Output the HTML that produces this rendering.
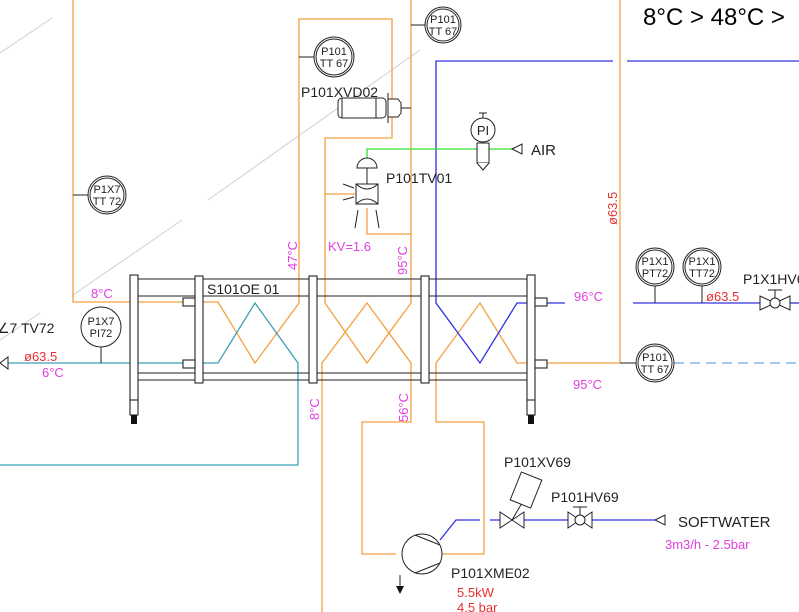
<!DOCTYPE html>
<html><head><meta charset="utf-8"><style>
html,body{margin:0;padding:0;background:#fff}
svg{display:block}
text{font-family:"Liberation Sans",sans-serif}
</style></head><body>
<svg width="799" height="612" viewBox="0 0 799 612" xmlns="http://www.w3.org/2000/svg">
<rect width="799" height="612" fill="#fff"/>
<!-- faint diagonal lines -->
<g stroke="#d0d0d0" stroke-width="1">
<line x1="0" y1="53" x2="52" y2="18"/>
<line x1="73" y1="295" x2="182" y2="220"/>
<line x1="208" y1="200" x2="420" y2="50"/>
<line x1="0" y1="340" x2="40" y2="313"/>
</g>
<g fill="none" stroke="#f5a040" stroke-width="1.3">
<!-- left orange loop -->
<polyline points="73,0 73,302 185,302"/>
<polyline points="185,302 218,302 255,363 299,303 299,19 392,19 392,138 325,138 325,303"/>
<line x1="325" y1="194" x2="355" y2="194"/>
<polyline points="367,208 367,234 411,234"/>
<line x1="411" y1="0" x2="411" y2="303"/>
<!-- section 2 -->
<polyline points="325,303 367,363 411,303"/>
<polyline points="322,612 322,363 367,303 411,363 411,422 362,422 362,554 396,554"/>
<polyline points="436,363 436,422 484,422 484,554 440,554"/>
<!-- section 3 orange -->
<polyline points="436,363 480,303 517,363 620,363"/>
<line x1="620" y1="0" x2="620" y2="363"/>
</g>
<!-- teal -->
<polyline points="0,363 218,363 255,303 298,363 298,465 0,465" fill="none" stroke="#3aa0b8" stroke-width="1.3"/>
<!-- blue -->
<g fill="none" stroke="#3030e0" stroke-width="1.3">
<polyline points="613,61 436,61 436,303 480,363 517,303 565,303"/>
<line x1="627" y1="61" x2="799" y2="61"/>
<line x1="633" y1="303" x2="760" y2="303"/>
<line x1="790" y1="303" x2="799" y2="303"/>
<polyline points="440,540 456,520 480,520"/>
<line x1="490" y1="520" x2="655" y2="520"/>
</g>
<line x1="674" y1="363" x2="799" y2="363" stroke="#70a8e0" stroke-width="1.3" stroke-dasharray="10,6"/>
<!-- green air -->
<polyline points="367,158 367,149 512,149" fill="none" stroke="#30e030" stroke-width="1.3"/>
<!-- HX frame -->
<g fill="#fff" stroke="#222" stroke-width="1.1">
<line x1="135" y1="279" x2="535" y2="279" fill="none"/>
<line x1="135" y1="296" x2="535" y2="296" fill="none"/>
<line x1="135" y1="373" x2="535" y2="373" fill="none"/>
<line x1="135" y1="380" x2="535" y2="380" fill="none"/>
<rect x="130" y="275" width="8" height="140"/>
<rect x="527" y="275" width="8" height="140"/>
<rect x="195" y="276" width="8" height="107"/>
<rect x="309" y="276" width="8" height="107"/>
<rect x="421" y="276" width="8" height="107"/>
<rect x="183" y="298" width="12" height="8"/>
<rect x="183" y="360" width="12" height="8"/>
<rect x="535" y="298" width="12" height="8"/>
<rect x="535" y="360" width="12" height="8"/>
<line x1="130" y1="400" x2="138" y2="400"/>
<line x1="527" y1="400" x2="535" y2="400"/>
</g>
<rect x="131" y="415" width="6" height="9" fill="#111"/>
<rect x="528" y="415" width="6" height="9" fill="#111"/>
<!-- instruments -->
<g fill="#fff" stroke="#222" stroke-width="1">
<line x1="73" y1="195" x2="89" y2="195"/><circle cx="107" cy="195" r="19"/><circle cx="107" cy="195" r="17"/>
<line x1="299" y1="57" x2="315" y2="57"/><circle cx="334" cy="57" r="20"/><circle cx="334" cy="57" r="18"/>
<line x1="411" y1="25" x2="425" y2="25"/><circle cx="443" cy="25" r="18"/><circle cx="443" cy="25" r="16"/>
<line x1="101" y1="347" x2="101" y2="363"/><circle cx="101" cy="327" r="20"/>
<line x1="655" y1="285" x2="655" y2="303"/><circle cx="655" cy="267" r="19"/><circle cx="655" cy="267" r="17"/>
<line x1="702" y1="285" x2="702" y2="303"/><circle cx="702" cy="267" r="19"/><circle cx="702" cy="267" r="17"/>
<line x1="620" y1="363" x2="636" y2="363"/><circle cx="655" cy="363" r="19"/><circle cx="655" cy="363" r="17"/>
<!-- PI -->
<line x1="483" y1="113" x2="483" y2="118"/><line x1="479" y1="113" x2="487" y2="113"/>
<circle cx="483" cy="130" r="12"/>
<rect x="477" y="143" width="12" height="20"/><polyline points="477,163 483,170 489,163"/>
<!-- XVD02 -->
<rect x="338" y="98" width="48" height="20" rx="4"/>
<line x1="342" y1="98" x2="342" y2="118"/><line x1="376" y1="98" x2="376" y2="118"/>
<line x1="388" y1="93" x2="388" y2="123"/>
<polygon points="388,99 398,99 401,103 401,113 398,117 388,117"/>
<line x1="401" y1="108" x2="411" y2="108"/>
<!-- control valve TV01 -->
<path d="M357,168 A10,10 0 0 1 377,168 Z"/>
<line x1="367" y1="168" x2="367" y2="184"/>
<rect x="356" y="184" width="22" height="20"/>
<path d="M356,184 Q367,194 378,184 M356,204 Q367,194 378,204" fill="none"/>
<line x1="343" y1="184" x2="354" y2="188" fill="none"/><line x1="343" y1="200" x2="354" y2="197" fill="none"/>
<line x1="358" y1="210" x2="355" y2="228"/><line x1="376" y1="210" x2="379" y2="228"/>
<!-- pump -->
<circle cx="422" cy="554" r="20"/>
<line x1="415" y1="535" x2="440" y2="545"/><line x1="415" y1="573" x2="440" y2="563"/>
<line x1="400" y1="575" x2="400" y2="588"/>
<!-- valves -->
<polygon points="500,512 500,528 524,512 524,528"/>
<line x1="512" y1="520" x2="522" y2="503"/>
<rect x="515" y="475" width="22" height="30" transform="rotate(22 526 490)"/>
<polygon points="568,512 568,528 592,512 592,528"/>
<circle cx="580" cy="520" r="5"/>
<line x1="580" y1="515" x2="580" y2="507"/><line x1="573" y1="507" x2="587" y2="507"/>
<polygon points="760,296 760,310 790,296 790,310"/>
<circle cx="775" cy="303" r="5"/>
<line x1="775" y1="298" x2="775" y2="290"/><line x1="768" y1="290" x2="782" y2="290"/>
<!-- arrow triangles -->
<polygon points="512,149 522,144 522,154"/>
<polygon points="655,520 665,515 665,525"/>
<polygon points="0,363 8,357 8,369"/>
</g>
<polygon points="396,586 404,586 400,594" fill="#111"/>
<!-- black text -->
<g fill="#222" font-size="11" text-anchor="middle">
<text x="107" y="193">P1X7</text><text x="107" y="205">TT 72</text>
<text x="334" y="55">P101</text><text x="334" y="67">TT 67</text>
<text x="443" y="23">P101</text><text x="443" y="35">TT 67</text>
<text x="101" y="325">P1X7</text><text x="101" y="337">PI72</text>
<text x="655" y="265">P1X1</text><text x="655" y="277">PT72</text>
<text x="702" y="265">P1X1</text><text x="702" y="277">TT72</text>
<text x="655" y="361">P101</text><text x="655" y="373">TT 67</text>
<text x="483" y="135" font-size="13">PI</text>
</g>
<g fill="#222" font-size="14">
<text x="301" y="97">P101XVD02</text>
<text x="386" y="183">P101TV01</text>
<text x="531" y="155" font-size="15">AIR</text>
<text x="207" y="294">S101OE 01</text>
<text x="-3" y="333">∠7 TV72</text>
<text x="743" y="284">P1X1HV6</text>
<text x="504" y="467">P101XV69</text>
<text x="551" y="502">P101HV69</text>
<text x="678" y="527" font-size="15">SOFTWATER</text>
<text x="451" y="578">P101XME02</text>
<text x="643" y="25" font-size="24" fill="#000">8°C &gt; 48°C &gt;</text>
</g>
<!-- magenta labels -->
<g fill="#e040e0" font-size="13">
<text x="91" y="298">8°C</text>
<text x="328" y="251">KV=1.6</text>
<text x="42" y="377">6°C</text>
<text x="574" y="301">96°C</text>
<text x="573" y="389">95°C</text>
<text x="665" y="549">3m3/h - 2.5bar</text>
<text transform="translate(297,270) rotate(-90)">47°C</text>
<text transform="translate(407,275) rotate(-90)">95°C</text>
<text transform="translate(319,420) rotate(-90)">8°C</text>
<text transform="translate(408,422) rotate(-90)">56°C</text>
</g>
<g fill="#e83030" font-size="13">
<text x="24" y="361">ø63.5</text>
<text x="706" y="301">ø63.5</text>
<text transform="translate(617,225) rotate(-90)">ø63.5</text>
<text x="457" y="597">5.5kW</text>
<text x="457" y="612">4.5 bar</text>
</g>
</svg>
</body></html>
